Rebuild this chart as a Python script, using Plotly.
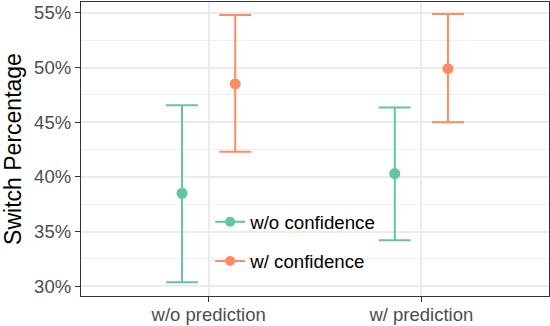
import plotly.graph_objects as go

# ---- data ----
categories = ["w/o prediction", "w/ prediction"]
series_names = ["w/o confidence", "w/ confidence"]
means_wo_conf = [38.5, 40.3]
upper_wo_conf = [46.55, 46.35]
lower_wo_conf = [30.35, 34.2]
means_w_conf = [48.5, 49.9]
upper_w_conf = [54.8, 54.9]
lower_w_conf = [42.3, 45.0]
y_ticks = [30, 35, 40, 45, 50, 55]

colors = ["#66c2a5", "#fc8d62"]
FONT = "Liberation Sans"

fig = go.Figure()

series = [
    (series_names[0], means_wo_conf, upper_wo_conf, lower_wo_conf, colors[0]),
    (series_names[1], means_w_conf, upper_w_conf, lower_w_conf, colors[1]),
]

for i, (name, m, up, lo, col) in enumerate(series):
    fig.add_trace(go.Scatter(
        x=categories, y=m, mode="markers", name=name,
        marker=dict(color=col, size=11),
        error_y=dict(type="data", symmetric=False,
                     array=[u - v for u, v in zip(up, m)],
                     arrayminus=[v - l for v, l in zip(m, lo)],
                     color=col, thickness=2, width=16),
        showlegend=False, offsetgroup=str(i), orientation="v",
        legendgroup=name,
    ))

# legend entries (line + point keys)
for name, col in zip(series_names, colors):
    fig.add_trace(go.Scatter(
        x=[None], y=[None], mode="lines+markers", name=name,
        line=dict(color=col, width=2), marker=dict(color=col, size=10),
        legendgroup=name, showlegend=True,
    ))

fig.update_layout(
    width=550, height=326,
    margin=dict(l=81, r=1, t=2, b=30),
    paper_bgcolor="white", plot_bgcolor="white",
    scattermode="group", scattergap=0.5,
    font=dict(family=FONT, size=18.5, color="#4d4d4d"),
    legend=dict(x=0.276, y=0.316, xanchor="left", yanchor="top",
                bgcolor="rgba(0,0,0,0)", tracegroupgap=12,
                font=dict(family=FONT, size=18.7, color="black")),
    shapes=[dict(type="rect", xref="paper", yref="paper",
                 x0=0.273, x1=0.359, y0=0.03, y1=0.32,
                 fillcolor="white", line=dict(width=0), layer="between")],
)

fig.update_xaxes(
    type="category", range=[-0.6, 1.6], automargin=False,
    showgrid=True, gridcolor="#ebebeb", gridwidth=2,
    showline=True, linecolor="#333333", linewidth=1.3, mirror=True,
    ticks="outside", ticklen=5, tickwidth=1.3, tickcolor="#333333",
    tickfont=dict(family=FONT, size=18.5, color="#4d4d4d"),
    ticklabelstandoff=-3,
    zeroline=False,
)
fig.update_yaxes(
    range=[29.1, 56.0], tickvals=y_ticks, ticktext=[f"{v}%" for v in y_ticks],
    automargin=False,
    showgrid=True, gridcolor="#ebebeb", gridwidth=2,
    minor=dict(dtick=2.5, tick0=0, showgrid=True, gridcolor="#f0f0f0", gridwidth=1),
    showline=True, linecolor="#333333", linewidth=1.3, mirror=True,
    ticks="outside", ticklen=5, tickwidth=1.3, tickcolor="#333333",
    tickfont=dict(family=FONT, size=18.5, color="#4d4d4d"),
    title=dict(text="Switch Percentage", font=dict(family=FONT, size=23, color="black"), standoff=8),
    zeroline=False,
)

fig.write_html("out.html", config={"displayModeBar": False},
               post_script="document.body.style.margin='0';")
